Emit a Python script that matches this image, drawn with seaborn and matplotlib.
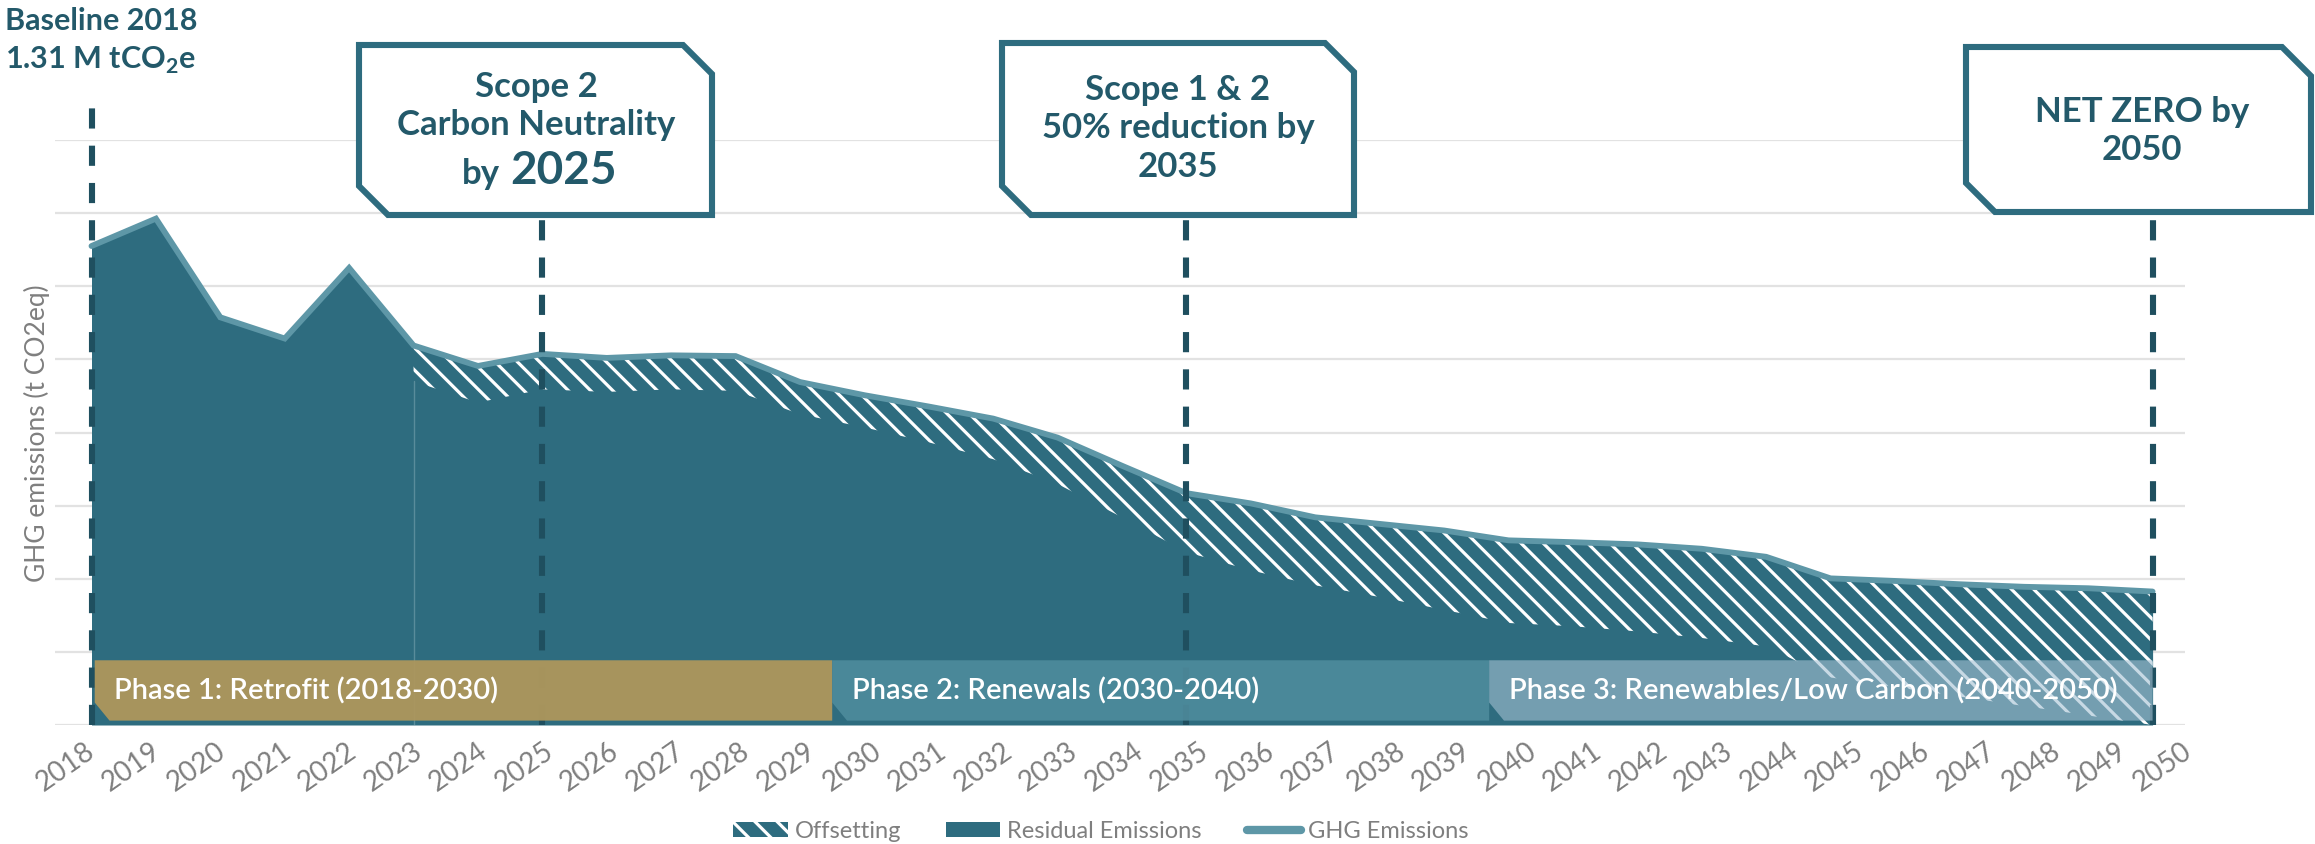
import numpy as np
import matplotlib
matplotlib.use("Agg")
import matplotlib.pyplot as plt
import seaborn as sns
from matplotlib.patches import Polygon, Patch
from matplotlib.lines import Line2D

# ---- data -------------------------------------------------------------
years = list(range(2018, 2051))
ghg_emissions = [1310000, 1385000, 1115000, 1057000, 1250000, 1038000, 982000,
                 1015000, 1004000, 1011000, 1009000, 938000, 902000, 871000,
                 838000, 786000, 709000, 634000, 606000, 568000, 550000, 532000,
                 505000, 500000, 494000, 482000, 460000, 401000, 394000, 385000,
                 378000, 374000, 365000]
# residual emissions once offsetting starts (2023 onwards)
offset_years = list(range(2023, 2051))
residual_emissions = [940000, 882000, 918000, 911000, 918000, 914000, 850000,
                      814000, 773000, 727000, 659000, 568000, 473000, 423000,
                      382000, 350000, 315000, 279000, 270000, 256000, 238000,
                      215000, 130000, 104000, 78000, 52000, 26000, 0]
milestone_years = [2018, 2025, 2035, 2050]
phase_labels = ["Phase 1: Retrofit (2018-2030)",
                "Phase 2: Renewals (2030-2040)",
                "Phase 3: Renewables/Low Carbon (2040-2050)"]
phase_spans = [(2018.05, 2029.5), (2029.5, 2039.7), (2039.7, 2050.0)]
legend_labels = ["Offsetting", "Residual Emissions", "GHG Emissions"]

# ---- style --------------------------------------------------------------
TEAL = "#2E6C7F"
LINE = "#5E97A7"
DASH = "#1F4F5F"
TEXT = "#23596A"
GRAY = "#7F7F7F"
PHASE_COLORS = [("#AE975C", 0.95), ("#4F8C9D", 0.88), ("#A3C0D2", 0.6)]

sns.set_theme(style="white")
plt.rcParams["font.family"] = ["Lato", "DejaVu Sans"]
plt.rcParams["mathtext.fontset"] = "custom"
plt.rcParams["mathtext.rm"] = "Lato"
plt.rcParams["mathtext.bf"] = "Lato:bold"
plt.rcParams["hatch.color"] = "white"
plt.rcParams["hatch.linewidth"] = 1.15

W, H, DPI = 2315, 845, 200
fig = plt.figure(figsize=(W / DPI, H / DPI), dpi=DPI)
fig.patch.set_facecolor("white")

AX_L, AX_R, AX_T, AX_B = 55, 2185, 141, 726
ax = fig.add_axes([AX_L / W, 1 - AX_B / H, (AX_R - AX_L) / W, (AX_B - AX_T) / H])


def fx(px):
    return px / W


def fy(py):
    return 1 - py / H


step = (2152.6 - 91.5) / 32
ax.set_xlim(2018 - (91.5 - AX_L) / step, 2050 + (AX_R - 2152.6) / step)
ax.set_ylim(0, 1600000)

# grid
ax.set_yticks(np.arange(0, 1600001, 200000))
ax.set_yticklabels([])
ax.grid(axis="y", color="#E2E2E2", lw=0.8)
ax.grid(axis="x", visible=False)
ax.set_axisbelow(True)
for s in ax.spines.values():
    s.set_visible(False)
ax.tick_params(axis="y", length=0)

# emissions area (residual) and offsetting hatch
ax.fill_between(years, 0, ghg_emissions, color=TEAL, lw=0, zorder=2)
ghg_from_offset = ghg_emissions[years.index(offset_years[0]):]
ax.fill_between(offset_years, residual_emissions, ghg_from_offset,
                facecolor="none", edgecolor="white", hatch="\\\\\\", lw=0, zorder=3)
ax.plot([offset_years[0]] * 2, [0, residual_emissions[0]], color="#6C9AA8",
        lw=0.5, alpha=0.7, zorder=3)

# GHG emissions line
sns.lineplot(x=years, y=ghg_emissions, ax=ax, color=LINE, lw=2.1, zorder=4,
             solid_joinstyle="miter")

# milestone dashed lines
tops_px = [106, 216, 216, 213]
for yr, tp in zip(milestone_years, tops_px):
    ax.axvline(yr, ymin=0, ymax=(AX_B - tp) / (AX_B - AX_T), color=DASH, lw=2.2,
               dashes=(3.3, 2.8), clip_on=False, zorder=5)

# phase bars
bar_lo, bar_hi = 12000, 177000
for label, (x0, x1), (col, a) in zip(phase_labels, phase_spans, PHASE_COLORS):
    knee = bar_lo + 0.3 * (bar_hi - bar_lo)
    poly = Polygon([(x0, bar_hi), (x1, bar_hi), (x1, bar_lo), (x0 + 0.23, bar_lo),
                    (x0, knee)], closed=True, facecolor=col, alpha=a, lw=0, zorder=6)
    ax.add_patch(poly)
    ax.text(x0 + 0.3, 97000, label, color="white", fontsize=10.5,
            fontweight="semibold", va="center", ha="left", zorder=7)

# x tick labels: slanted, on a slightly wider pitch than the year grid
ax.set_xticks(years)
ax.set_xticklabels([])
ax.tick_params(axis="x", length=0)
xlab_tr = ax.get_xaxis_transform()
for yr in years:
    ax.text(yr - 0.11 + (yr - years[0]) * 0.0175, -0.021, str(yr),
            transform=xlab_tr, rotation=35, rotation_mode="anchor", ha="right",
            va="top", color=GRAY, fontsize=10, clip_on=False)

# y label
ax.set_ylabel("GHG emissions (t CO2eq)", color=GRAY, fontsize=9.5)
ax.yaxis.set_label_coords(-0.0025, 0.5)

# callout boxes
def callout(L, T, R, B, c=29):
    pts = [(L, T), (R - c, T), (R, T + c), (R, B), (L + c, B), (L, B - c)]
    poly = Polygon([(fx(x), fy(y)) for x, y in pts], closed=True,
                   transform=fig.transFigure, facecolor="white", edgecolor=TEAL,
                   lw=2.2, joinstyle="miter", zorder=8)
    fig.add_artist(poly)


callout(359, 46, 712, 216)
callout(1002, 44, 1354, 216)
callout(1966, 48, 2311, 213)

kw = dict(color=TEXT, fontweight="bold", ha="center", va="center", zorder=9)
fig.text(fx(536), fy(87), "Scope 2", fontsize=12.5, **kw)
fig.text(fx(536), fy(125), "Carbon Neutrality", fontsize=12.5, **kw)
fig.text(fx(500), fy(184), "by", fontsize=12.5, color=TEXT, fontweight="bold",
         ha="right", va="baseline", zorder=9)
fig.text(fx(510), fy(184), "2025", fontsize=16.5, color=TEXT, fontweight="bold",
         ha="left", va="baseline", zorder=9)

fig.text(fx(1178), fy(90), "Scope 1 & 2", fontsize=12.5, **kw)
fig.text(fx(1178), fy(128), "50% reduction by", fontsize=12.5, **kw)
fig.text(fx(1178), fy(167), "2035", fontsize=12.5, **kw)

fig.text(fx(2142), fy(112), "NET ZERO by", fontsize=12.5, **kw)
fig.text(fx(2142), fy(150), "2050", fontsize=12.5, **kw)

# baseline note
fig.text(fx(5), fy(21), "Baseline 2018", fontsize=11, color=TEXT,
         fontweight="bold", ha="left", va="center")
fig.text(fx(5), fy(60), r"1.31 M tCO$_\mathbf{2}$e", fontsize=11, color=TEXT,
         fontweight="bold", ha="left", va="center")

# legend
handles = [Patch(facecolor=TEAL, edgecolor="white", hatch="\\\\\\", lw=0),
           Patch(facecolor=TEAL, lw=0),
           Line2D([], [], color=LINE, lw=3)]
leg = fig.legend(handles, legend_labels, loc="center", ncol=3, frameon=False,
                 bbox_to_anchor=(fx(1101), fy(832)), fontsize=8.5,
                 handlelength=2.3, handleheight=0.6, handletextpad=0.3,
                 columnspacing=1.9)
for t in leg.get_texts():
    t.set_color(GRAY)

fig.savefig("out.png", dpi=DPI, facecolor="white")
